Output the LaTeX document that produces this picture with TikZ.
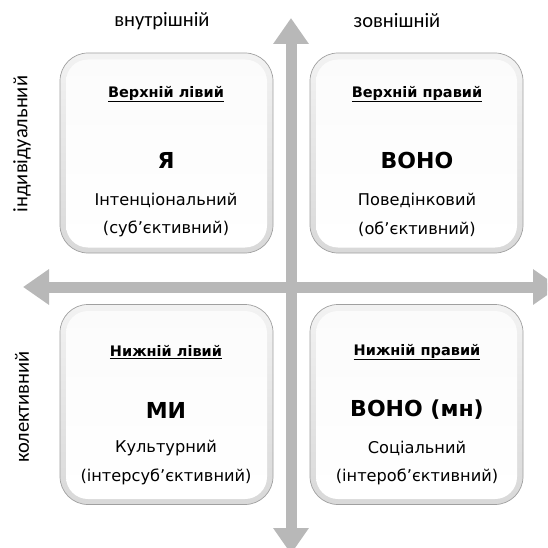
\documentclass[tikz,border=0pt]{standalone}
\usepackage{fontspec}
\setmainfont{DejaVu Sans}
\newfontfamily\axisfont{Carlito}
\usetikzlibrary{arrows.meta}
\definecolor{arrowgray}{HTML}{B8B8B8}
\definecolor{rimgray}{HTML}{A0A0A0}
\tikzset{
  axisarrow/.style={draw=arrowgray, line width=11pt,
    {Triangle[width=34pt,length=26pt]}-{Triangle[width=34pt,length=26pt]}},
  quad/.style={draw=rimgray, line width=0.7pt, rounded corners=28pt,
    top color=gray!10, bottom color=gray!30, minimum width=213pt, minimum height=200pt, inner sep=0pt},
  quadin/.style={rounded corners=22pt, top color=gray!3, bottom color=white,
    minimum width=201pt, minimum height=188pt, inner sep=0pt},
  head/.style={font=\fontsize{14.5}{16}\selectfont\bfseries, inner sep=0pt},
  big/.style={font=\fontsize{22}{24}\selectfont\bfseries, inner sep=0pt},
  sub/.style={font=\fontsize{16.2}{18}\selectfont, inner sep=0pt},
  axislbl/.style={font=\axisfont\fontsize{20.5}{22}\selectfont, inner sep=0pt},
}
\begin{document}
\begin{tikzpicture}[x=1pt,y=-1pt]
\useasboundingbox (0,0) rectangle (547,548);
\clip (0,0) rectangle (547,548);
% axes
\coordinate (vt) at (291,18);
\coordinate (vb) at (291,554);
\coordinate (hl) at (23,287);
\coordinate (hr) at (559,287);
\draw[axisarrow] (vb) -- (vt);
\draw[axisarrow] (hl) -- (hr);
% boxes
\node[quad] (tl) at (166.5,153) {};
\node[quadin] (tli) at (166.5,153.5) {};
\node[quad] (tr) at (416.5,153) {};
\node[quadin] (tri) at (416.5,153.5) {};
\node[quad] (bl) at (166.5,404.5) {};
\node[quadin] (bli) at (166.5,405) {};
\node[quad] (br) at (416.5,404.5) {};
\node[quadin] (bri) at (416.5,405) {};
% top left
\node[head] (tlh) at (166,94) {\underline{Верхній лівий}};
\node[big] (tlm) at (166,160) {Я};
\node[sub] (tl3) at (166,200) {Інтенціональний};
\node[sub] (tl4) at (166,229) {(суб’єктивний)};
% top right
\node[head] (trh) at (417,94) {\underline{Верхній правий}};
\node[big] (trm) at (417,160) {ВОНО};
\node[sub] (tr3) at (417,200) {Поведінковий};
\node[sub] (tr4) at (417,229) {(об’єктивний)};
% bottom left
\node[head] (blh) at (166,352) {\underline{Нижній лівий}};
\node[big] (blm) at (166,410) {МИ};
\node[sub] (bl3) at (166,448) {Культурний};
\node[sub] (bl4) at (166,477) {(інтерсуб’єктивний)};
% bottom right
\node[head] (brh) at (417,352) {\underline{Нижній правий}};
\node[big] (brm) at (417,410) {ВОНО (мн)};
\node[sub] (br3) at (417,448) {Соціальний};
\node[sub] (br4) at (417,477) {(інтероб’єктивний)};
% axis labels
\node[axislbl] (lin) at (162,21) {внутрішній};
\node[axislbl] (lout) at (397,21) {зовнішній};
\node[axislbl, rotate=90] (lind) at (22,144) {індивідуальний};
\node[axislbl, rotate=90] (lcol) at (22,407) {колективний};
\end{tikzpicture}
\end{document}
